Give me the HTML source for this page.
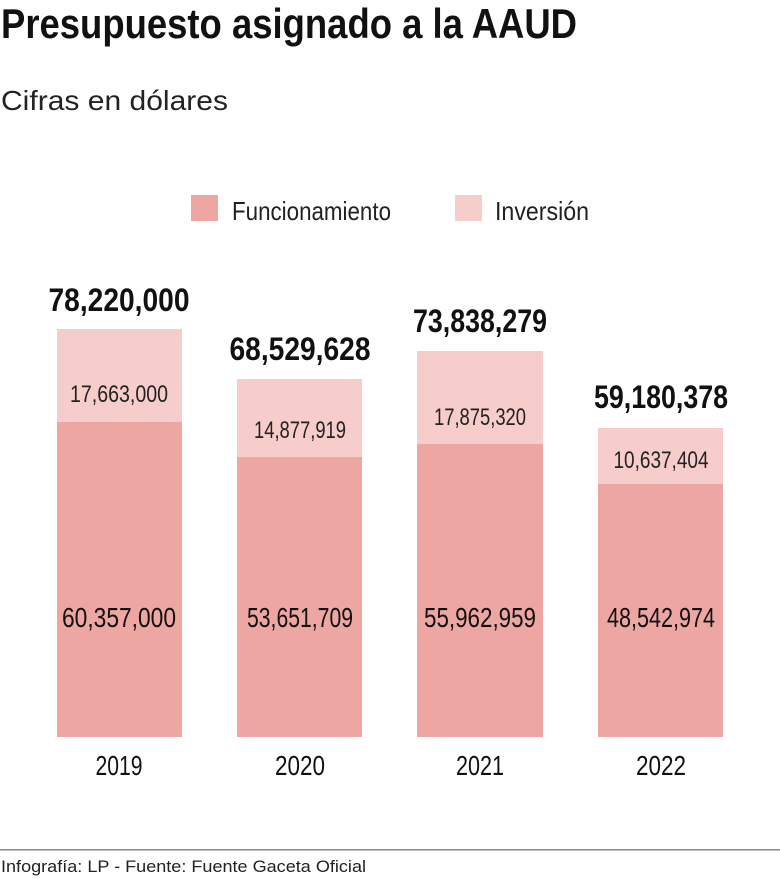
<!DOCTYPE html>
<html><head><meta charset="utf-8"><style>html,body{margin:0;padding:0;background:#fff}svg{display:block}</style></head>
<body>
<svg width="780" height="879" viewBox="0 0 780 879" xmlns="http://www.w3.org/2000/svg" font-family="'Liberation Sans Narrow','Liberation Sans',sans-serif">
<text x="1" y="38" font-size="42" font-weight="bold" fill="#111" textLength="576" lengthAdjust="spacingAndGlyphs">Presupuesto asignado a la AAUD</text>
<text x="1" y="110" font-size="28" fill="#222" textLength="227" lengthAdjust="spacingAndGlyphs">Cifras en dólares</text>
<rect x="191" y="195" width="27" height="26" fill="#eea6a3"/>
<text x="232" y="220" font-size="26" fill="#222" textLength="159" lengthAdjust="spacingAndGlyphs">Funcionamiento</text>
<rect x="455" y="195" width="27" height="26" fill="#f6cdca"/>
<text x="495" y="220" font-size="26" fill="#222" textLength="94" lengthAdjust="spacingAndGlyphs">Inversión</text>
<g fill="#f6cdca">
<rect x="57" y="329" width="125" height="94"/>
<rect x="237" y="379" width="125" height="79"/>
<rect x="417" y="351" width="126" height="94"/>
<rect x="598" y="428" width="125" height="57"/>
</g>
<g fill="#eea6a3">
<rect x="57" y="422" width="125" height="315"/>
<rect x="237" y="457" width="125" height="280"/>
<rect x="417" y="444" width="126" height="293"/>
<rect x="598" y="484" width="125" height="253"/>
</g>
<g font-size="32" font-weight="bold" fill="#111" text-anchor="middle">
<text x="119" y="311" textLength="141" lengthAdjust="spacingAndGlyphs">78,220,000</text>
<text x="300" y="360" textLength="141" lengthAdjust="spacingAndGlyphs">68,529,628</text>
<text x="480" y="332" textLength="134" lengthAdjust="spacingAndGlyphs">73,838,279</text>
<text x="661" y="408" textLength="134" lengthAdjust="spacingAndGlyphs">59,180,378</text>
</g>
<g font-size="24" fill="#222" text-anchor="middle">
<text x="119" y="402" textLength="98" lengthAdjust="spacingAndGlyphs">17,663,000</text>
<text x="300" y="438" textLength="92" lengthAdjust="spacingAndGlyphs">14,877,919</text>
<text x="480" y="425" textLength="92" lengthAdjust="spacingAndGlyphs">17,875,320</text>
<text x="661" y="468" textLength="95" lengthAdjust="spacingAndGlyphs">10,637,404</text>
</g>
<g font-size="28" fill="#111" text-anchor="middle">
<text x="119" y="627" textLength="114" lengthAdjust="spacingAndGlyphs">60,357,000</text>
<text x="300" y="627" textLength="106" lengthAdjust="spacingAndGlyphs">53,651,709</text>
<text x="480" y="627" textLength="112" lengthAdjust="spacingAndGlyphs">55,962,959</text>
<text x="661" y="627" textLength="108" lengthAdjust="spacingAndGlyphs">48,542,974</text>
</g>
<g font-size="28" fill="#111" text-anchor="middle">
<text x="119" y="775" textLength="47" lengthAdjust="spacingAndGlyphs">2019</text>
<text x="300" y="775" textLength="50" lengthAdjust="spacingAndGlyphs">2020</text>
<text x="480" y="775" textLength="48" lengthAdjust="spacingAndGlyphs">2021</text>
<text x="661" y="775" textLength="50" lengthAdjust="spacingAndGlyphs">2022</text>
</g>
<rect x="0" y="849" width="780" height="1.5" fill="#888"/>
<text x="1" y="872" font-family="'Liberation Sans',sans-serif" font-size="17" fill="#222" textLength="365" lengthAdjust="spacingAndGlyphs">Infografía: LP - Fuente: Fuente Gaceta Oficial</text>
</svg>
</body></html>
